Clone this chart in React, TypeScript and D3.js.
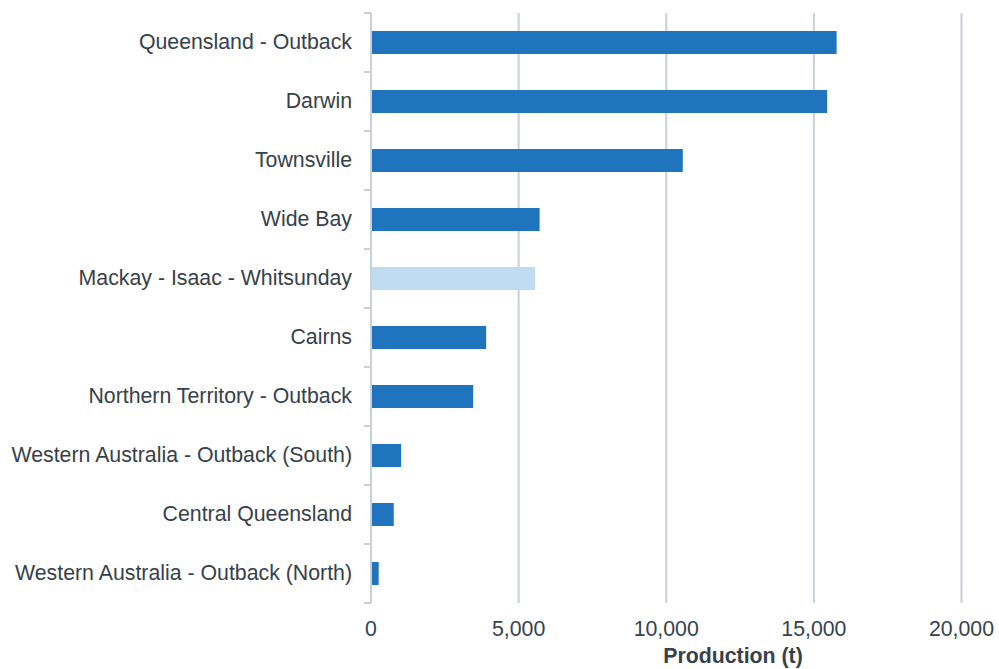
import React from 'react'
import * as d3 from 'd3'

const regions = [
  'Queensland - Outback',
  'Darwin',
  'Townsville',
  'Wide Bay',
  'Mackay - Isaac - Whitsunday',
  'Cairns',
  'Northern Territory - Outback',
  'Western Australia - Outback (South)',
  'Central Queensland',
  'Western Australia - Outback (North)',
]
const production = [15770, 15450, 10560, 5710, 5560, 3900, 3460, 1020, 770, 260]
const highlighted = ['Mackay - Isaac - Whitsunday']
const xTicks = [0, 5000, 10000, 15000, 20000]

const App = () => {
  const ref = React.useRef<SVGSVGElement | null>(null)

  React.useEffect(() => {
    const width = 999
    const height = 669
    const margin = { top: 13, right: 38, bottom: 67, left: 371 }
    const textColor = '#36414b'
    const gridColor = '#c6d1d9'
    const font = 'Liberation Sans, Arial, sans-serif'

    const svg = d3.select(ref.current)
    svg.selectAll('*').remove()

    const x = d3.scaleLinear().domain([0, 20000]).range([margin.left, 961.5])
    const y = d3
      .scaleBand()
      .domain(regions)
      .range([margin.top, height - margin.bottom + 1])
      .padding(0)

    // gridlines
    svg
      .append('g')
      .selectAll('line')
      .data(xTicks.slice(1))
      .enter()
      .append('line')
      .attr('x1', (d) => x(d))
      .attr('x2', (d) => x(d))
      .attr('y1', margin.top)
      .attr('y2', height - margin.bottom + 1)
      .attr('stroke', gridColor)
      .attr('stroke-width', 2)

    // y axis line and boundary ticks
    const yTop = margin.top
    const yBot = height - margin.bottom + 1
    svg
      .append('line')
      .attr('x1', x(0))
      .attr('x2', x(0))
      .attr('y1', yTop)
      .attr('y2', yBot)
      .attr('stroke', gridColor)
      .attr('stroke-width', 2)

    const bounds = regions.map((r) => y(r) || 0).concat([yBot])
    svg
      .append('g')
      .selectAll('line')
      .data(bounds)
      .enter()
      .append('line')
      .attr('x1', x(0) - 7)
      .attr('x2', x(0))
      .attr('y1', (d) => d)
      .attr('y2', (d) => d)
      .attr('stroke', gridColor)
      .attr('stroke-width', 2)

    // bars
    const barH = y.bandwidth() * 0.39
    svg
      .append('g')
      .selectAll('rect')
      .data(regions)
      .enter()
      .append('rect')
      .attr('x', x(0) + 1)
      .attr('y', (d) => (y(d) || 0) + (y.bandwidth() - barH) / 2)
      .attr('width', (d, i) => x(production[i]) - x(0) - 1)
      .attr('height', barH)
      .attr('fill', (d) => (highlighted.includes(d) ? '#c0dcf3' : '#1f74bd'))

    // category labels
    svg
      .append('g')
      .selectAll('text')
      .data(regions)
      .enter()
      .append('text')
      .attr('x', x(0) - 19)
      .attr('y', (d) => (y(d) || 0) + y.bandwidth() / 2 - 1)
      .attr('dy', '0.35em')
      .attr('text-anchor', 'end')
      .attr('fill', textColor)
      .style('font-family', font)
      .style('font-size', '21.3px')
      .text((d) => d)

    // x tick labels
    svg
      .append('g')
      .selectAll('text')
      .data(xTicks)
      .enter()
      .append('text')
      .attr('x', (d) => x(d))
      .attr('y', 636)
      .attr('text-anchor', 'middle')
      .attr('fill', textColor)
      .style('font-family', font)
      .style('font-size', '21.3px')
      .text((d) => d3.format(',')(d))

    // axis title
    svg
      .append('text')
      .attr('x', 733)
      .attr('y', 663)
      .attr('text-anchor', 'middle')
      .attr('fill', textColor)
      .style('font-family', font)
      .style('font-size', '21.3px')
      .style('font-weight', 'bold')
      .text('Production (t)')
  }, [])

  return (
    <svg
      ref={ref}
      width={999}
      height={669}
      style={{ position: 'absolute', left: 0, top: 0, background: '#fff' }}
    ></svg>
  )
}

export default App
